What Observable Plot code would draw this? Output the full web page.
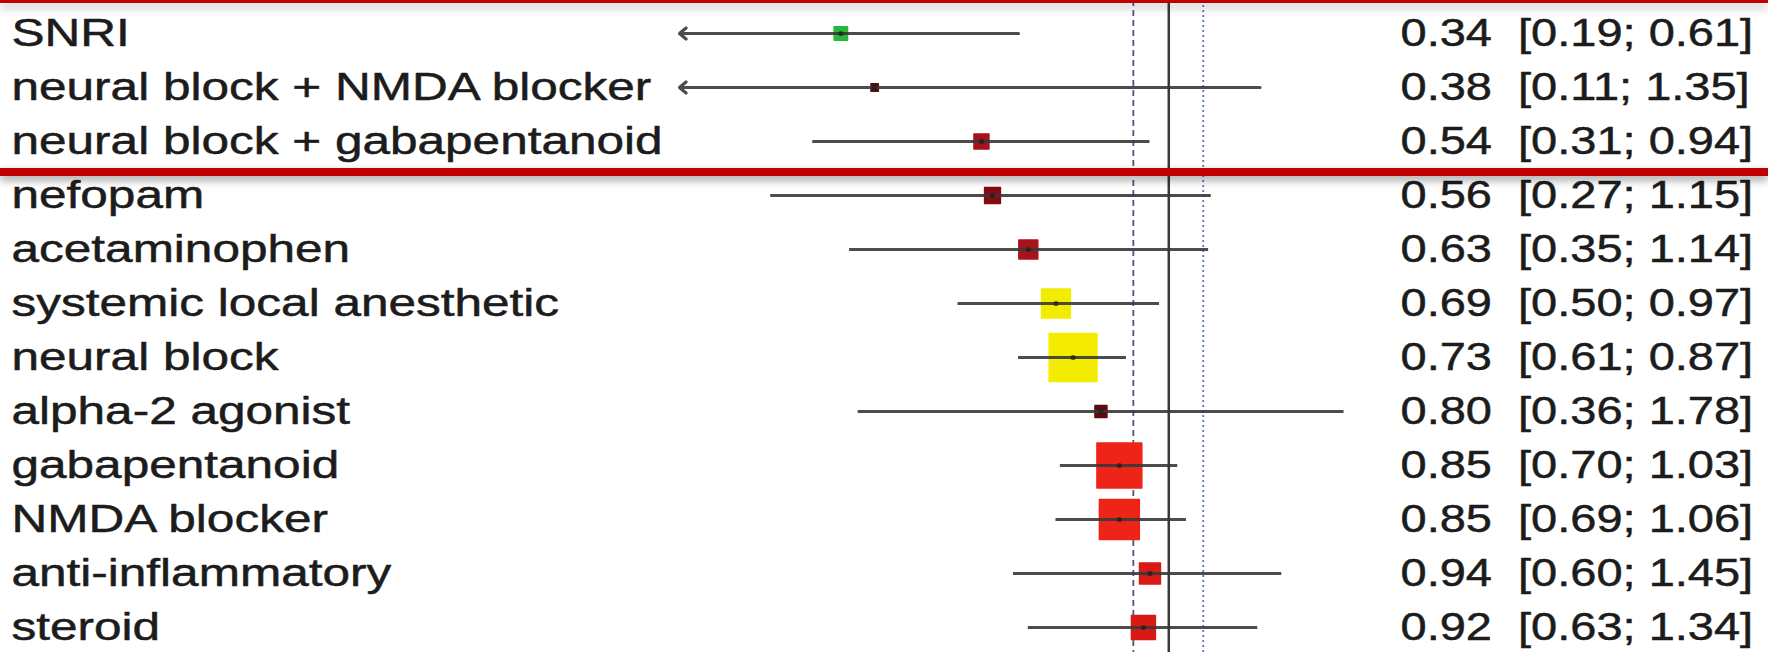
<!DOCTYPE html>
<html>
<head>
<meta charset="utf-8">
<script src="https://cdn.jsdelivr.net/npm/d3@7"></script>
<script src="https://cdn.jsdelivr.net/npm/@observablehq/plot@0.6"></script>
<style>
  html, body { margin: 0; padding: 0; background: #ffffff; }
  #wrap { position: relative; width: 1768px; height: 652px; overflow: hidden; background: #ffffff; }
  #wrap svg { display: block; }
  #wrap svg text { white-space: pre; }
  .hl { position: absolute; left: 0; width: 1768px; background: #c00000; box-shadow: 0 4px 8px rgba(0,0,0,0.38); }
</style>
</head>
<body>
<div id="wrap"></div>
<script>
// ---- data ----
const labels = [
  "SNRI",
  "neural block + NMDA blocker",
  "neural block + gabapentanoid",
  "nefopam",
  "acetaminophen",
  "systemic local anesthetic",
  "neural block",
  "alpha-2 agonist",
  "gabapentanoid",
  "NMDA blocker",
  "anti-inflammatory",
  "steroid"
];
const estimates = [0.34, 0.38, 0.54, 0.56, 0.63, 0.69, 0.73, 0.80, 0.85, 0.85, 0.94, 0.92];
const lower     = [0.19, 0.11, 0.31, 0.27, 0.35, 0.50, 0.61, 0.36, 0.70, 0.69, 0.60, 0.63];
const upper     = [0.61, 1.35, 0.94, 1.15, 1.14, 0.97, 0.87, 1.78, 1.03, 1.06, 1.45, 1.34];
// relative weight (square area), estimated from square sizes
const weights   = [2.0, 0.6, 2.5, 2.8, 4.0, 9.3, 25.6, 1.6, 22.5, 17.8, 4.9, 6.4];
// colour class of each square
const classes   = ["green", "maroon", "brick", "darkred", "brick", "yellow", "yellow", "maroon", "red", "red", "scarlet", "scarlet"];
const classNames  = ["green", "yellow", "maroon", "darkred", "brick", "scarlet", "red"];
const classColors = ["#27b83a", "#f4ec00", "#5e0a0e", "#860b12", "#a8121a", "#d81a16", "#ee2419"];

const axisMin = 0.2, axisMax = 2;
const refSolid = 1, refDashed = 0.89, refDotted = 1.12;

// ---- table built from the arrays ----
const fmt = v => v.toFixed(2);
const rows = labels.map((label, i) => ({
  label,
  est: estimates[i],
  lo: lower[i],
  hi: upper[i],
  loDraw: Math.max(lower[i], axisMin),
  clipped: lower[i] < axisMin,
  weight: weights[i],
  cls: classes[i],
  txt: `${fmt(estimates[i])}  [${fmt(lower[i])}; ${fmt(upper[i])}]`
}));

const textColor = "#1c1c1c";
const lineColor = "#383838";

const chart = Plot.plot({
  width: 1768,
  height: 652,
  margin: 0,
  style: { background: "#ffffff", fontFamily: "'Liberation Sans', Arial, Helvetica, sans-serif" },
  x: { type: "log", domain: [axisMin, axisMax], range: [679, 1379], axis: null },
  y: { type: "point", domain: labels, range: [31.5, 628], padding: 0, axis: null },
  r: { type: "sqrt", domain: [0, 25.6], range: [0, 27] },
  color: { type: "ordinal", domain: classNames, range: classColors },
  marks: [
    Plot.ruleX([refDashed], { stroke: "#4b5877", strokeWidth: 1.8, strokeDasharray: "6,4" }),
    Plot.ruleX([refDotted], { stroke: "#5a78ad", strokeWidth: 1.8, strokeDasharray: "2,3" }),
    Plot.ruleX([refSolid], { stroke: "#3a3a3a", strokeWidth: 2.5 }),
    Plot.dot(rows, { x: "est", y: "label", r: "weight", symbol: "square", fill: "cls", stroke: "cls", strokeWidth: 1.5, strokeLinejoin: "round" }),
    Plot.ruleY(rows.filter(d => !d.clipped), { y: "label", x1: "lo", x2: "hi", stroke: lineColor, strokeWidth: 3.2, strokeOpacity: 0.9 }),
    Plot.arrow(rows.filter(d => d.clipped), {
      x1: "hi", x2: "loDraw", y1: "label", y2: "label",
      stroke: lineColor, strokeWidth: 3.2, strokeOpacity: 0.9, headLength: 4, headAngle: 80
    }),
    Plot.dot(rows, { x: "est", y: "label", r: 2.6, fill: "#1a1a1a", fillOpacity: 0.65 }),
    Plot.text(rows, { y: "label", text: "label", frameAnchor: "left", textAnchor: "start", dx: 11, fontSize: 39, fill: textColor, stroke: textColor, strokeWidth: 0.5 }),
    Plot.text(rows, { y: "label", text: "txt", frameAnchor: "right", textAnchor: "start", dx: -368, fontSize: 39, fill: textColor, stroke: textColor, strokeWidth: 0.5 })
  ]
});

// the reference lettering is horizontally stretched (labels a little more than the numbers)
const stretches = [1.27, 1.205];
d3.select(chart).selectAll("g[aria-label='text']").each(function (_, gi) {
  const sx = stretches[Math.min(gi, stretches.length - 1)];
  d3.select(this).selectAll("text").each(function () {
    const el = d3.select(this);
    const t = el.attr("transform") || "";
    const xa = el.attr("x");
    let pre = "";
    if (xa != null && !isNaN(+xa) && +xa !== 0) { pre = ` translate(${+xa},0)`; el.attr("x", null); }
    el.attr("transform", `${t}${pre} scale(${sx},1)`);
  });
});

const wrap = document.getElementById("wrap");
wrap.appendChild(chart);

// red highlight frame around the first three rows
const hlTop = document.createElement("div");
hlTop.className = "hl"; hlTop.style.top = "0px"; hlTop.style.height = "3px";
const hlBottom = document.createElement("div");
hlBottom.className = "hl"; hlBottom.style.top = "168px"; hlBottom.style.height = "8px";
wrap.appendChild(hlTop);
wrap.appendChild(hlBottom);
</script>
</body>
</html>
